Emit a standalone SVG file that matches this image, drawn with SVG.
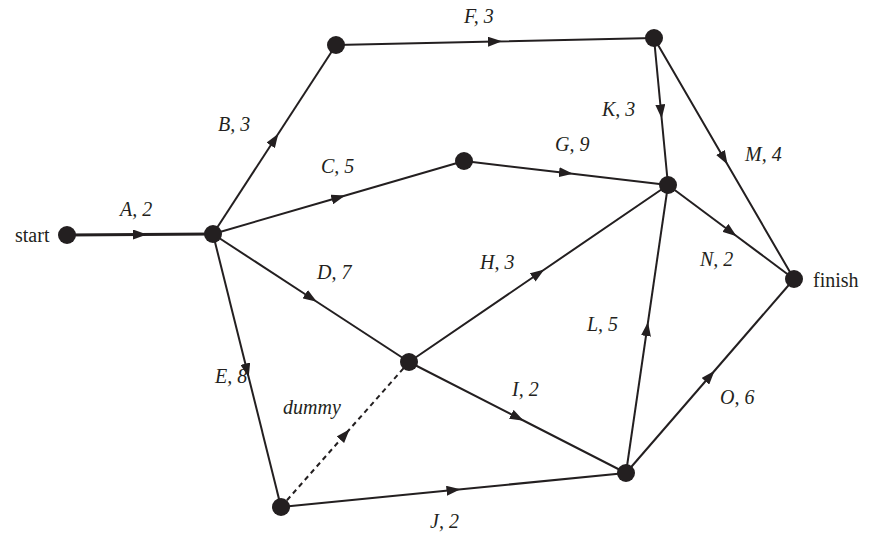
<svg xmlns="http://www.w3.org/2000/svg" width="891" height="538" viewBox="0 0 891 538">
<style>
.e{stroke:#231f20;stroke-width:2;fill:none;marker-mid:url(#ar)}
.l{font-family:"Liberation Serif",serif;font-style:italic;font-size:20px;fill:#231f20}
.t{font-family:"Liberation Serif",serif;font-size:20px;fill:#231f20}
circle{fill:#231f20}
</style>
<defs><marker id="ar" viewBox="0 0 14 10" refX="7" refY="5" markerWidth="14" markerHeight="10" markerUnits="userSpaceOnUse" orient="auto"><path d="M0,0L14,5L0,10z" fill="#231f20"/></marker></defs>
<rect width="891" height="538" fill="#fff"/>
<g id="connectors">
<path class="e" style="stroke-width:3" d="M67,235L140,234.5L213,234"/>
<path class="e" d="M213,234L274.5,139.5L336,45"/>
<path class="e" d="M336,45L495,41.5L654,38"/>
<path class="e" d="M213,234L338.5,197.5L464,161"/>
<path class="e" d="M464,161L566,173L668,185"/>
<path class="e" d="M654,38L661,111.5L668,185"/>
<path class="e" d="M654,38L724,158.5L794,279"/>
<path class="e" d="M668,185L731,232L794,279"/>
<path class="e" d="M213,234L311,298L409,362"/>
<path class="e" d="M409,362L538.5,273.5L668,185"/>
<path class="e" d="M213,234L247,370.5L281,507"/>
<path class="e" style="stroke-dasharray:5,4" d="M281,507L345,434.5L409,362"/>
<path class="e" d="M409,362L517.5,417.5L626,473"/>
<path class="e" d="M281,507L453.5,490L626,473"/>
<path class="e" d="M626,473L647,329L668,185"/>
<path class="e" d="M626,473L710,376L794,279"/>
</g>
<g id="start"><circle cx="67" cy="235" r="9"/><text class="t" x="15" y="242">start</text></g>
<g id="n1"><circle cx="213" cy="234" r="9"/></g>
<g id="n2"><circle cx="336" cy="45" r="9"/></g>
<g id="n3"><circle cx="654" cy="38" r="9"/></g>
<g id="n4"><circle cx="464" cy="161" r="9"/></g>
<g id="n5"><circle cx="668" cy="185" r="9"/></g>
<g id="n6"><circle cx="409" cy="362" r="9"/></g>
<g id="finish"><circle cx="794" cy="279" r="9"/><text class="t" x="813" y="287">finish</text></g>
<g id="n8"><circle cx="281" cy="507" r="9"/></g>
<g id="n9"><circle cx="626" cy="473" r="9"/></g>
<g id="labels">
<text class="l" x="120" y="216">A, 2</text>
<text class="l" x="218" y="131">B, 3</text>
<text class="l" x="464" y="23">F, 3</text>
<text class="l" x="321" y="173">C, 5</text>
<text class="l" x="555" y="151">G, 9</text>
<text class="l" x="602" y="116">K, 3</text>
<text class="l" x="745" y="161">M, 4</text>
<text class="l" x="700" y="266">N, 2</text>
<text class="l" x="317" y="279">D, 7</text>
<text class="l" x="480" y="269">H, 3</text>
<text class="l" x="215" y="383">E, 8</text>
<text class="l" x="283" y="414">dummy</text>
<text class="l" x="512" y="396">I, 2</text>
<text class="l" x="430" y="528">J, 2</text>
<text class="l" x="587" y="331">L, 5</text>
<text class="l" x="720" y="404">O, 6</text>
</g>
</svg>
